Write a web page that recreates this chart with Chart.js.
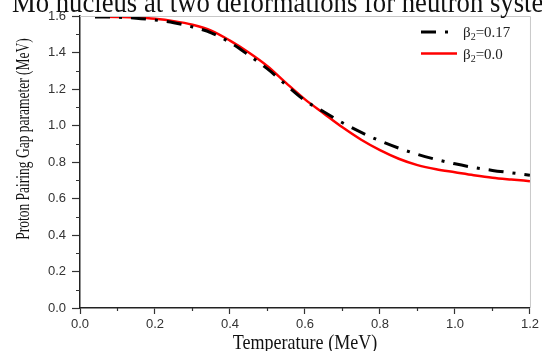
<!DOCTYPE html>
<html>
<head>
<meta charset="utf-8">
<script src="https://cdn.jsdelivr.net/npm/chart.js@4"></script>
<style>
  body { margin: 0; background: #fff; }
  canvas { display: block; }
</style>
</head>
<body>
<canvas id="gapChart" width="542" height="351"></canvas>
<script>
// Temperature points (MeV) and pairing gap (MeV) for the two deformations
const temperature = [0.04, 0.1, 0.15, 0.2, 0.25, 0.3, 0.35, 0.4, 0.45, 0.5, 0.55, 0.6,
                     0.65, 0.7, 0.75, 0.8, 0.85, 0.9, 0.95, 1.0, 1.05, 1.1, 1.15, 1.2];
const gapBeta017 = [1.595, 1.593, 1.588, 1.578, 1.563, 1.54, 1.508, 1.455, 1.385, 1.31, 1.222, 1.137,
                    1.075, 1.015, 0.962, 0.916, 0.876, 0.842, 0.814, 0.79, 0.77, 0.754, 0.741, 0.728];
const gapBeta0 = [1.597, 1.595, 1.592, 1.585, 1.572, 1.552, 1.52, 1.465, 1.4, 1.325, 1.232, 1.143,
                  1.066, 0.99, 0.922, 0.865, 0.818, 0.783, 0.76, 0.744, 0.728, 0.714, 0.704, 0.695];
const seriesLabels = ['β₂=0.17', 'β₂=0.0'];

const chartTitle = 'Mo nucleus at two deformations for neutron system';
const xTitle = 'Temperature (MeV)';
const yTitle = 'Proton Pairing Gap parameter (MeV)';

const toPoints = (ys) => temperature.map((t, i) => ({ x: t, y: ys[i] }));

const serif = '"Liberation Serif", "Times New Roman", serif';
const sans = '"Liberation Sans", Arial, sans-serif';

// condensed serif text, like the scanned figure
function drawText(ctx, text, x, y, size, squeeze, align, angle) {
    ctx.save();
    ctx.translate(x, y);
    if (angle) ctx.rotate(angle);
    ctx.scale(squeeze, 1);
    ctx.font = size + 'px ' + serif;
    ctx.textAlign = align;
    ctx.textBaseline = 'alphabetic';
    ctx.fillStyle = '#111';
    ctx.fillText(text, 0, 0);
    ctx.restore();
}

const extras = {
    id: 'extras',
    afterDraw(chart) {
        const { ctx, chartArea: a, scales: { x, y } } = chart;

        // light frame on top and right
        ctx.save();
        ctx.strokeStyle = '#c8c8c8';
        ctx.lineWidth = 1;
        ctx.beginPath();
        ctx.moveTo(a.left, a.top + 0.5);
        ctx.lineTo(a.right + 0.5, a.top + 0.5);
        ctx.lineTo(a.right + 0.5, a.bottom);
        ctx.stroke();

        // minor ticks halfway between the major ones
        ctx.strokeStyle = '#333';
        ctx.lineWidth = 1.2;
        ctx.beginPath();
        for (let i = 0; i < y.ticks.length - 1; i++) {
            const py = Math.round(y.getPixelForValue((y.ticks[i].value + y.ticks[i + 1].value) / 2)) + 0.5;
            ctx.moveTo(a.left - 4, py);
            ctx.lineTo(a.left, py);
        }
        for (let i = 0; i < x.ticks.length - 1; i++) {
            const px = Math.round(x.getPixelForValue((x.ticks[i].value + x.ticks[i + 1].value) / 2)) + 0.5;
            ctx.moveTo(px, a.bottom);
            ctx.lineTo(px, a.bottom + 3);
        }
        ctx.stroke();
        ctx.restore();

        // titles
        drawText(ctx, chartTitle, 12, 12, 29, 0.92, 'left');
        drawText(ctx, xTitle, (a.left + a.right) / 2, 349, 22, 0.82, 'center');
        drawText(ctx, yTitle, 28.5, 139, 18, 0.75, 'center', -Math.PI / 2);

        // legend inside the plot, top right
        chart.data.datasets.forEach((ds, i) => {
            const ly = 32 + i * 21.5;
            ctx.save();
            ctx.strokeStyle = ds.borderColor;
            ctx.lineWidth = ds.borderWidth;
            ctx.setLineDash(ds.borderDash || []);
            ctx.beginPath();
            ctx.moveTo(421, ly);
            ctx.lineTo(457, ly);
            ctx.stroke();
            ctx.restore();

            const [head, tail] = ds.label.split('₂');
            ctx.save();
            ctx.fillStyle = '#222';
            ctx.textBaseline = 'alphabetic';
            ctx.textAlign = 'left';
            let tx = 463;
            ctx.font = '15px ' + serif;
            ctx.fillText(head, tx, ly + 5);
            tx += ctx.measureText(head).width;
            ctx.font = '10px ' + serif;
            ctx.fillText('2', tx, ly + 8);
            tx += ctx.measureText('2').width;
            ctx.font = '15px ' + serif;
            ctx.fillText(tail, tx, ly + 5);
            ctx.restore();
        });
    }
};

const ctx = document.getElementById('gapChart').getContext('2d');

new Chart(ctx, {
    type: 'line',
    data: {
        datasets: [{
            label: seriesLabels[0],
            data: toPoints(gapBeta017),
            borderColor: '#000',
            borderWidth: 3,
            borderDash: [15, 9, 3, 9],
            pointRadius: 0,
            cubicInterpolationMode: 'monotone',
            fill: false
        }, {
            label: seriesLabels[1],
            data: toPoints(gapBeta0),
            borderColor: '#ff0000',
            borderWidth: 2.5,
            pointRadius: 0,
            cubicInterpolationMode: 'monotone',
            fill: false
        }]
    },
    options: {
        responsive: false,
        animation: false,
        layout: { padding: { top: 16, right: 11, left: 0, bottom: 0 } },
        plugins: {
            legend: { display: false },
            tooltip: { enabled: false }
        },
        scales: {
            x: {
                type: 'linear',
                min: 0,
                max: 1.2,
                afterFit: (s) => { s.height = 43; },
                border: { color: '#222', width: 1.5 },
                grid: { drawOnChartArea: false, tickLength: 6, tickColor: '#333', tickWidth: 1.2 },
                ticks: {
                    stepSize: 0.2,
                    padding: 3,
                    color: '#333',
                    font: { family: sans, size: 13 },
                    maxRotation: 0,
                    callback: (v) => v.toFixed(1)
                }
            },
            y: {
                min: 0,
                max: 1.6,
                afterFit: (s) => { s.width = 80; },
                border: { color: '#222', width: 1.5 },
                grid: { drawOnChartArea: false, tickLength: 8, tickColor: '#333', tickWidth: 1.2 },
                ticks: {
                    stepSize: 0.2,
                    padding: 6,
                    color: '#333',
                    font: { family: sans, size: 13 },
                    callback: (v) => v.toFixed(1)
                }
            }
        }
    },
    plugins: [extras]
});
</script>
</body>
</html>
